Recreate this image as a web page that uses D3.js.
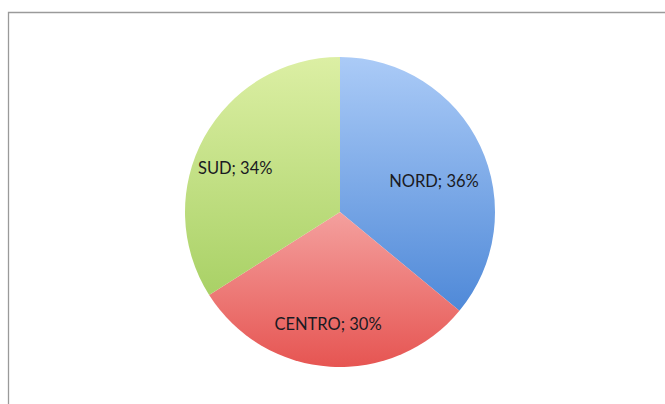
<!DOCTYPE html>
<html>
<head>
<meta charset="utf-8">
<script src="https://cdn.jsdelivr.net/npm/d3@7"></script>
<style>
  html, body { margin: 0; padding: 0; background: #ffffff; }
  svg { display: block; }
</style>
</head>
<body>
<svg id="chart" width="665" height="404"></svg>
<script>
// Regional shares (percent)
const regions = ["NORD", "CENTRO", "SUD"];
const shares = [36, 30, 34];

// Per-slice gradient colours (top -> bottom)
const topColors = ["#abcbf7", "#f4a09e", "#dcefa4"];
const bottomColors = ["#4f89d8", "#e65552", "#a9d166"];
// Small label nudges (x, y) for readability
const labelNudge = [[-7, 17], [-5, 1], [-7, 10]];

const W = 665, H = 404;
const cx = 340, cy = 212, R = 155;

const svg = d3.select("#chart");

// Outer frame
svg.append("path")
  .attr("d", `M${W + 2},12.5 H8.5 V${H + 2}`)
  .attr("fill", "none")
  .attr("stroke", "#9a9a9a")
  .attr("stroke-width", 1.3);

const defs = svg.append("defs");
regions.forEach((r, i) => {
  const g = defs.append("linearGradient")
    .attr("id", "grad" + i)
    .attr("x1", 0).attr("y1", 0).attr("x2", 0).attr("y2", 1);
  g.append("stop").attr("offset", "0%").attr("stop-color", topColors[i]);
  g.append("stop").attr("offset", "100%").attr("stop-color", bottomColors[i]);
});

const data = regions.map((r, i) => ({ name: r, value: shares[i], i }));

const pie = d3.pie().value(d => d.value).sort(null);
const arc = d3.arc().innerRadius(0).outerRadius(R);
const labelArc = d3.arc().innerRadius(R * 0.72).outerRadius(R * 0.72);

const g = svg.append("g").attr("transform", `translate(${cx},${cy})`);
const arcs = pie(data);

g.selectAll("path.slice")
  .data(arcs)
  .join("path")
  .attr("class", "slice")
  .attr("d", arc)
  .attr("fill", d => `url(#grad${d.data.i})`);

g.selectAll("text.lbl")
  .data(arcs)
  .join("text")
  .attr("class", "lbl")
  .attr("transform", d => {
    const [x, y] = labelArc.centroid(d);
    const n = labelNudge[d.data.i];
    return `translate(${x + n[0]},${y + n[1]})`;
  })
  .attr("text-anchor", "middle")
  .attr("dominant-baseline", "central")
  .attr("font-family", "Lato, 'Open Sans', sans-serif")
  .attr("font-size", 16.5)
  .attr("fill", "#1a1a22")
  .text(d => `${d.data.name}; ${d.data.value}%`);
</script>
</body>
</html>
